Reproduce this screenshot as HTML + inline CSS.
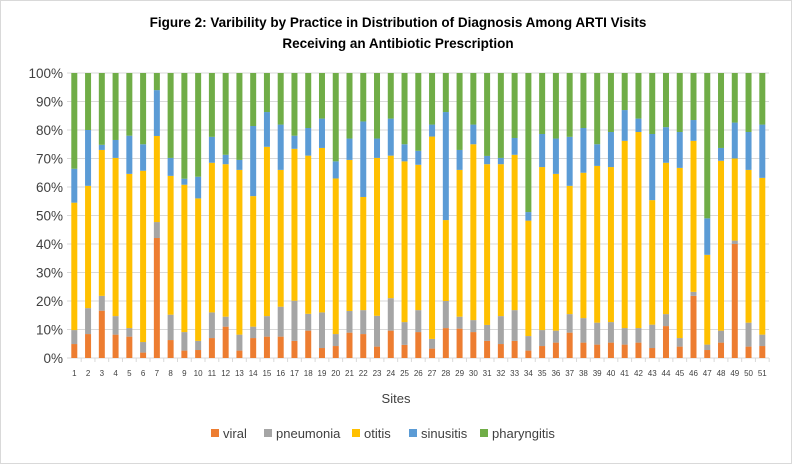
<!DOCTYPE html>
<html><head><meta charset="utf-8"><style>
html,body{margin:0;padding:0;background:#fff;}
svg{display:block;font-family:"Liberation Sans",Arial,sans-serif;}
</style></head><body>
<svg id="c" width="792" height="464" viewBox="0 0 792 464" xmlns="http://www.w3.org/2000/svg">
<rect x="0.5" y="0.5" width="791" height="463" fill="#fff" stroke="#d9d9d9"/>
<text x="398" y="27" text-anchor="middle" font-size="13.5" font-weight="bold" fill="#000">Figure 2: Varibility by Practice in Distribution of Diagnosis Among ARTI Visits</text>
<text x="398" y="48" text-anchor="middle" font-size="13.5" font-weight="bold" fill="#000">Receiving an Antibiotic Prescription</text>
<text x="396" y="403" text-anchor="middle" font-size="13" fill="#404040">Sites</text>
<g font-size="13" fill="#404040">
<rect x="211" y="429" width="8" height="8" fill="#ED7D31"/><text x="223" y="438">viral</text>
<rect x="264" y="429" width="8" height="8" fill="#A5A5A5"/><text x="276" y="438">pneumonia</text>
<rect x="352" y="429" width="8" height="8" fill="#FFC000"/><text x="364" y="438">otitis</text>
<rect x="409" y="429" width="8" height="8" fill="#5B9BD5"/><text x="421" y="438">sinusitis</text>
<rect x="480" y="429" width="8" height="8" fill="#70AD47"/><text x="492" y="438">pharyngitis</text>
</g>
</svg>
<script>
var d=[[4.9,9.8,54.5,66.4],[8.4,17.5,60.4,80],[16.6,21.8,73,74.8],[8.2,14.7,70.2,76.5],[7.5,10.5,64.6,78],[1.9,5.6,65.7,75],[42.1,47.7,77.9,94],[6.3,15.2,63.9,70.2],[2.6,9.1,60.8,62.9],[2.8,6,56,63.6],[7,16,68.5,77.6],[11,14.5,68,71.3],[2.6,8.2,66,69.5],[7,11,56.8,81.4],[7.5,14.7,74.1,86.3],[7.5,18,66,81.9],[6,20.1,73.4,78],[9.6,15.5,71,80.7],[3.5,16,73.7,84],[4.2,8.4,63,69],[8.9,16.5,69.5,77],[8.4,16.8,56.5,83],[4,14.8,70.2,77],[9.6,21,71,84],[4.6,12.6,69,75],[9.1,16.8,67.8,72.7],[3.3,6.7,77.7,81.9],[10.5,20,48.4,86.3],[10.3,14.5,66,73],[9.1,13.3,75,81.9],[6,11.6,68,70.9],[4.9,14.7,68,70.2],[6,16.8,71.3,77.2],[2.6,7.7,48.2,51.2],[4.2,9.8,67,78.6],[5.4,9.6,64.6,77],[8.9,15.4,60.4,77.6],[5.4,14,65,80.7],[4.7,12.4,67.4,75],[5.4,12.6,67,79.3],[4.7,10.5,76.2,87],[5.4,10.5,79.3,84],[3.5,11.7,55.4,78.6],[11.2,15.4,68.5,81],[4,7,66.7,79.3],[21.8,23.2,76.2,83.5],[2.8,4.7,36.2,49],[5.4,9.6,69.2,73.7],[40,41.2,70,82.6],[4,12.4,66,79.3],[4.2,8.2,63.2,81.9]];
var cols=["#ED7D31","#A5A5A5","#FFC000","#5B9BD5","#70AD47"];
var s=document.getElementById("c"),h="";
var Y=function(p){return 358-p*2.85;};
for(var i=0;i<=10;i++){var y=Y(i*10);h+='<line x1="67" x2="769" y1="'+y+'" y2="'+y+'" stroke="#d9d9d9" stroke-width="1"/>';
h+='<text x="63" y="'+(y+5)+'" text-anchor="end" font-size="13.5" fill="#404040">'+(i*10)+'%</text>';}
for(var j=0;j<51;j++){var cx=74.3+j*13.76,v=[0].concat(d[j]).concat([100]);
for(var k=0;k<5;k++){var y1=Y(v[k+1]),y0=Y(v[k]);h+='<rect x="'+(cx-3)+'" y="'+y1+'" width="6" height="'+(y0-y1)+'" fill="'+cols[k]+'"/>';}
h+='<line x1="'+(cx+6.88)+'" x2="'+(cx+6.88)+'" y1="358" y2="362" stroke="#d9d9d9"/>';
h+='<text x="'+cx+'" y="376" text-anchor="middle" font-size="8" fill="#404040">'+(j+1)+'</text>';}
s.insertAdjacentHTML("beforeend",h);
</script>
</body></html>
